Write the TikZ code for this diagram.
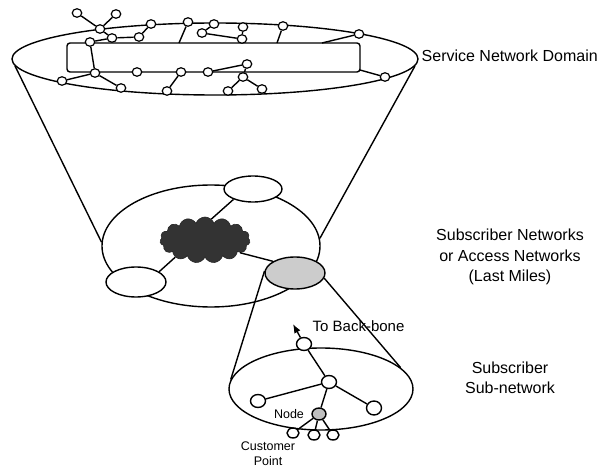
\documentclass[tikz,border=0pt]{standalone}
\usepackage{fontspec}
\setmainfont{Liberation Sans}
\usetikzlibrary{shapes.geometric,shapes.symbols,arrows.meta}
\begin{document}
\begin{tikzpicture}[x=1pt,y=-1pt,
  line width=1.4pt, line join=round,
  tn/.style={draw,ellipse,fill=white,inner sep=0pt,minimum width=9.5pt,minimum height=8.5pt,line width=1.2pt},
  bn/.style={draw,ellipse,fill=white,inner sep=0pt,minimum width=15pt,minimum height=13pt},
  cn/.style={draw,ellipse,fill=white,inner sep=0pt,minimum width=12pt,minimum height=10pt},
  big/.style={draw,ellipse,inner sep=0pt},
  lbl/.style={font=\fontsize{16}{20.5}\selectfont,align=center,inner sep=0pt},
  sml/.style={font=\fontsize{12.5}{15}\selectfont,align=center,inner sep=0pt}]
\useasboundingbox (0,0) rectangle (606,468);

% ---------- Service network domain ----------
\node[big,minimum width=406pt,minimum height=72pt] (dom) at (215,59) {};
\node[draw,rounded corners=3pt,inner sep=0pt,minimum width=293pt,minimum height=29pt] (bar) at (213.5,57.5) {};

\node[tn] (t1) at (77,13) {};
\node[tn] (t2) at (116,14) {};
\node[tn] (h) at (100,29) {};
\node[tn] (b) at (151,24) {};
\node[tn] (c) at (188,22) {};
\node[tn] (d1) at (214,24) {};
\node[tn] (d2) at (202,33) {};
\node[tn] (e1) at (243,27) {};
\node[tn] (e2) at (242,39) {};
\node[tn] (f1) at (283,26) {};
\node[tn] (g) at (359,34) {};
\node[tn] (dd) at (112,38) {};
\node[tn] (ee) at (139,37) {};
\node[tn] (ff) at (90,42) {};
\node[tn] (gg) at (95,73) {};
\node[tn] (ii) at (137,72) {};
\node[tn] (jj) at (181,72) {};
\node[tn] (kk) at (208,72) {};
\node[tn] (ll) at (247,64) {};
\node[tn] (mm) at (243,77) {};
\node[tn] (nn) at (228,91) {};
\node[tn] (oo) at (262,89) {};
\node[tn] (pp) at (167,91) {};
\node[tn] (qq) at (121,88) {};
\node[tn] (rr) at (62,81) {};
\node[tn] (ss) at (385,77) {};

\coordinate (r1) at (179,43);
\coordinate (r2) at (277,43);
\coordinate (r3) at (322,43);
\coordinate (r4) at (360,70);

\draw (t1) -- (h);
\draw (t2) -- (h);
\draw (h) -- (dd);
\draw (ff) -- (dd) -- (ee) -- (b);
\draw (ff) -- (gg);
\draw (gg) -- (rr);
\draw (gg) -- (qq);
\draw (jj) -- (pp);
\draw (kk) -- (ll) -- (mm);
\draw (mm) -- (nn);
\draw (mm) -- (oo);
\draw (d1) -- (d2) -- (e2) -- (e1);
\draw (c) -- (r1);
\draw (f1) -- (r2);
\draw (g) -- (r3);
\draw (r4) -- (ss);

% ---------- Subscriber / access networks ----------
\node[big,minimum width=218pt,minimum height=122pt] (mid) at (211,246) {};
\draw (dom.182) -- (mid.178);
\draw (dom.358) -- (mid.4);

\node[big,fill=white,minimum width=58pt,minimum height=26pt] (s1) at (253,189) {};
\node[big,fill=white,minimum width=60pt,minimum height=30pt] (s2) at (136,282) {};
\node[big,fill=black!20,minimum width=60pt,minimum height=32pt] (s3) at (295,273) {};
\node[cloud,cloud puffs=15,cloud puff arc=140,cloud ignores aspect,fill=black!80,draw=black!85,line width=0.6pt,
      inner sep=0pt,minimum width=90pt,minimum height=46pt] (cl) at (205,240) {};

\draw (s1.208) -- (cl.73);
\draw (s2.24) -- (cl.210);
\draw (cl.340) -- (s3.152);

% ---------- Subscriber sub-network ----------
\node[big,minimum width=184pt,minimum height=82pt] (bot) at (321,389) {};
\draw (s3.176) -- (bot.174);
\draw (s3.350) -- (bot.15);

\node[bn] (n1) at (304,344) {};
\node[bn] (n2) at (329,382) {};
\node[bn] (n3) at (258,401) {};
\node[bn,minimum height=14pt] (n4) at (374,408) {};
\node[bn,fill=black!25,minimum width=14pt,minimum height=12pt] (ng) at (319,414) {};
\node[cn] (c1) at (293,433) {};
\node[cn] (c2) at (314,435) {};
\node[cn] (c3) at (333,435) {};
\coordinate (bb) at (293,324);

\draw (n1) -- (n2);
\draw (n2) -- (n3);
\draw (n2) -- (n4);
\draw (n2) -- (ng);
\draw (ng) -- (c1);
\draw (ng) -- (c2);
\draw (ng) -- (c3);
\draw[-{Latex[length=9pt,width=7pt]}] (n1) -- (bb);

% ---------- Labels ----------
\node[lbl,anchor=west] (sd) at (421,56) {Service Network Domain};
\node[lbl] (sn) at (510,257) {Subscriber Networks\\or Access Networks\\(Last Miles)};
\node[lbl] (sub) at (510,378) {Subscriber\\Sub-network};
\node[font=\fontsize{15}{18}\selectfont,anchor=west,inner sep=0pt] (tb) at (312,326) {To Back-bone};
\node[sml] (nl) at (289,414) {Node};
\node[sml] (cp) at (268,454) {Customer\\Point};
\end{tikzpicture}
\end{document}
